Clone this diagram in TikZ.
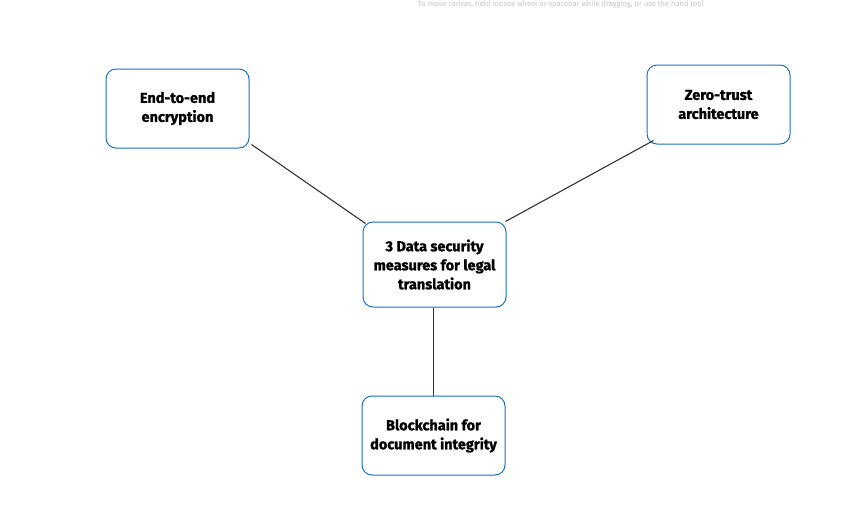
\documentclass[tikz,border=0pt]{standalone}
\usepackage{fontspec}
\setmainfont{Fira Sans}[BoldFeatures={FakeBold=1.2}]
\usetikzlibrary{arrows,calc,positioning}
\definecolor{boxblue}{HTML}{1971C2}
\definecolor{linegray}{HTML}{333333}
\tikzset{
        block/.style = {draw=boxblue, line width=1pt, rounded corners=10pt,
            fill=white, align=center, font=\bfseries\fontsize{14.5}{19}\selectfont,
            minimum width=143pt, minimum height=79pt, inner sep=2pt},
        link/.style = {draw=linegray, line width=1.1pt},
        hint/.style = {text=black!22, font=\fontsize{7.5}{9}\selectfont, inner sep=0pt},
    }

\begin{document}
\begin{tikzpicture}[x=1pt,y=-1pt]
    \useasboundingbox (0,0) rectangle (862,528);
    \fill[white] (0,0) rectangle (862,528);

    \node[hint] (tip) at (561,4.5) {To move canvas, hold mouse wheel or spacebar while dragging, or use the hand tool};

    \node[block] (hub) at (434.5,264.5) [minimum height=85pt] {3 Data security\\measures for legal\\translation};
    \node[block] (e2e) at (177.5,108.5) {End-to-end\\encryption};
    \node[block] (zt) at (718.5,104.5) {Zero-trust\\architecture};
    \node[block] (bc) at (433.5,435.5) {Blockchain for\\document integrity};

    %\draw[link] (e2e) -- (hub);
    \draw[link] ($ (e2e.south east) + (2,-4) $) -- ($ (hub.north west) + (3,2) $);
    \draw[link] ($ (hub.north east) + (-1,0) $) -- ($ (zt.south west) + (7,-4) $);
    \draw[link] (hub.south -| bc.north) -- (bc.north);
\end{tikzpicture}
\end{document}
